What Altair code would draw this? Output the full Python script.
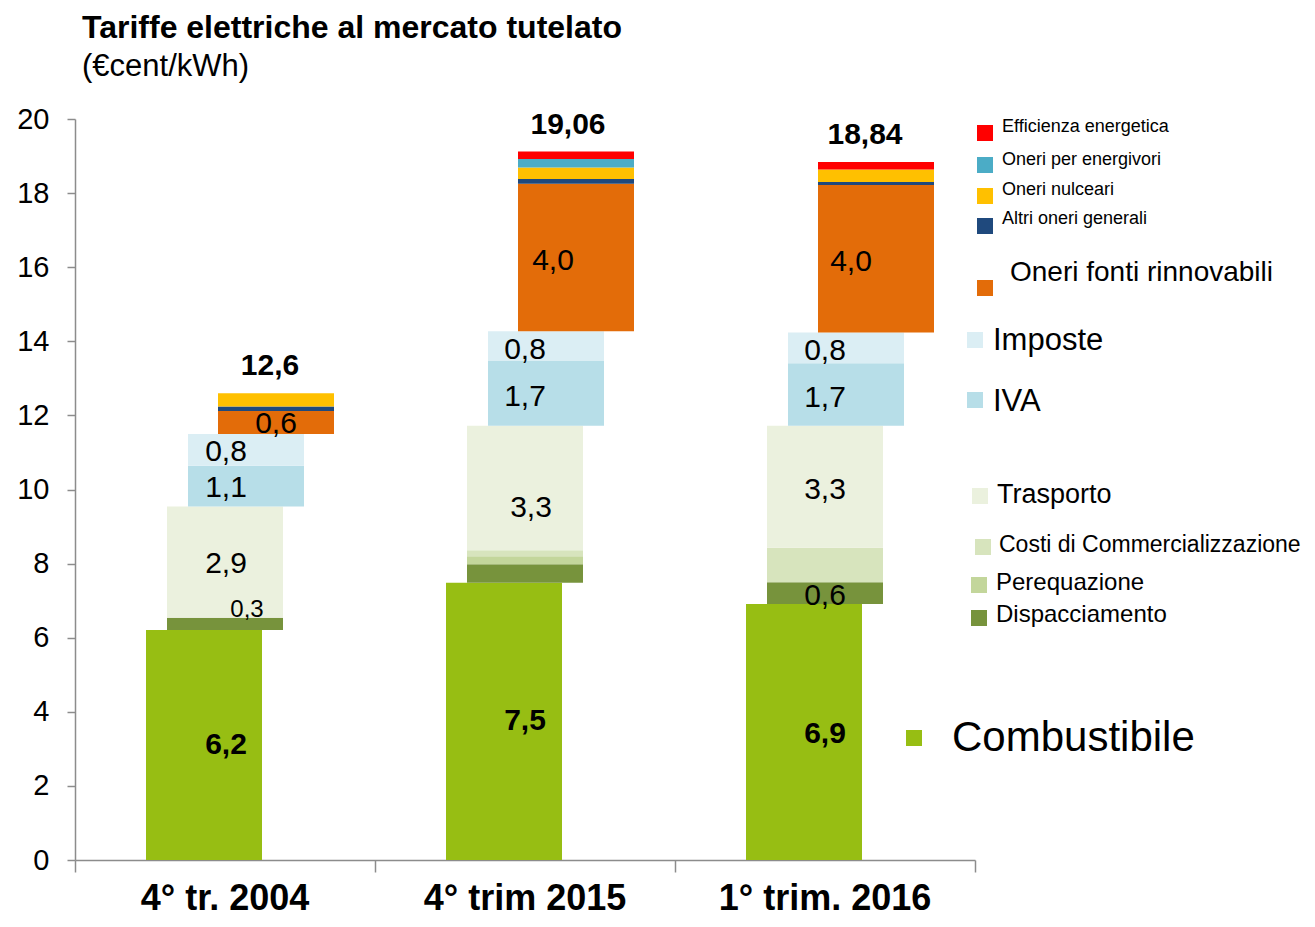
import altair as alt
import pandas as pd

# ---------------- data ----------------
groups = ["4° tr. 2004", "4° trim 2015", "1° trim. 2016"]
components = [
    "Combustibile", "Dispacciamento", "Perequazione", "Costi di Commercializzazione",
    "Trasporto", "IVA", "Imposte", "Oneri fonti rinnovabili", "Altri oneri generali",
    "Oneri nulceari", "Oneri per energivori", "Efficienza energetica",
]
combustibile = [6.21, 7.48, 6.91]
dispacciamento = [0.33, 0.50, 0.59]
perequazione = [0.00, 0.22, 0.00]
commercializzazione = [0.00, 0.16, 0.93]
trasporto = [3.00, 3.36, 3.29]
iva = [1.10, 1.75, 1.69]
imposte = [0.86, 0.80, 0.83]
rinnovabili = [0.62, 3.98, 3.98]
altri_oneri = [0.12, 0.13, 0.08]
nucleari = [0.36, 0.31, 0.34]
energivori = [0.00, 0.23, 0.00]
efficienza = [0.00, 0.20, 0.20]
totals = ["12,6", "19,06", "18,84"]

series = [combustibile, dispacciamento, perequazione, commercializzazione, trasporto,
          iva, imposte, rinnovabili, altri_oneri, nucleari, energivori, efficienza]

# value labels: (group, component, text)
value_labels = [
    (0, "Combustibile", "6,2"), (0, "Dispacciamento", "0,3"), (0, "Trasporto", "2,9"),
    (0, "IVA", "1,1"), (0, "Imposte", "0,8"), (0, "Oneri fonti rinnovabili", "0,6"),
    (1, "Combustibile", "7,5"), (1, "Trasporto", "3,3"), (1, "IVA", "1,7"),
    (1, "Imposte", "0,8"), (1, "Oneri fonti rinnovabili", "4,0"),
    (2, "Combustibile", "6,9"), (2, "Dispacciamento", "0,6"), (2, "Trasporto", "3,3"),
    (2, "IVA", "1,7"), (2, "Imposte", "0,8"), (2, "Oneri fonti rinnovabili", "4,0"),
]

# ---------------- style / layout ----------------
colors = ["#97BE13", "#77933C", "#C3D69B", "#D7E4BD", "#EBF1DE", "#B7DEE8", "#DBEEF4",
          "#E36C09", "#1F497D", "#FFC000", "#4BACC6", "#FF0000"]
column_of = [0, 1, 1, 1, 1, 2, 2, 3, 3, 3, 3, 3]
COL_OFFSET = [71, 92, 113, 143]
BAR_W = 116
GROUP_W = 300
FONT = "Liberation Sans"

# label placement tweaks: (x offset inside group, vertical nudge in value units, font size, bold)
label_style = {
    (0, "Combustibile"): (151, 0.0, 30, True),
    (0, "Dispacciamento"): (172, 0.38, 24, False),
    (0, "Trasporto"): (151, -0.05, 30, False),
    (0, "IVA"): (151, -0.05, 30, False),
    (0, "Imposte"): (151, -0.05, 30, False),
    (0, "Oneri fonti rinnovabili"): (201, -0.05, 30, False),
    (1, "Combustibile"): (150, 0.0, 30, True),
    (1, "Trasporto"): (156, -0.55, 30, False),
    (1, "IVA"): (150, -0.1, 30, False),
    (1, "Imposte"): (150, -0.1, 30, False),
    (1, "Oneri fonti rinnovabili"): (178, -0.1, 30, False),
    (2, "Combustibile"): (150, -0.05, 30, True),
    (2, "Dispacciamento"): (150, -0.07, 30, False),
    (2, "Trasporto"): (150, -0.08, 30, False),
    (2, "IVA"): (150, -0.1, 30, False),
    (2, "Imposte"): (150, -0.1, 30, False),
    (2, "Oneri fonti rinnovabili"): (176, -0.1, 30, False),
}
total_dx = [195, 193, 190]

# ---------------- build tables ----------------
rows = []
seg = {}
for gi, g in enumerate(groups):
    cum = 0.0
    for ci, comp in enumerate(components):
        v = series[ci][gi]
        y0, y1 = cum, cum + v
        cum = y1
        seg[(gi, comp)] = (y0, y1)
        if v <= 0:
            continue
        x0 = gi * GROUP_W + COL_OFFSET[column_of[ci]]
        rows.append(dict(group=g, component=comp, value=v, y0=y0, y1=y1, x0=x0, x1=x0 + BAR_W))
    seg[(gi, "TOTAL")] = (cum, cum)
bars_df = pd.DataFrame(rows)

lab_rows = []
for gi, comp, txt in value_labels:
    dx, nudge, fs, bold = label_style[(gi, comp)]
    y0, y1 = seg[(gi, comp)]
    lab_rows.append(dict(text=txt, x=gi * GROUP_W + dx, y=(y0 + y1) / 2 + nudge, fs=fs, bold=bold))
for gi, t in enumerate(totals):
    top = seg[(gi, "TOTAL")][0]
    lab_rows.append(dict(text=t, x=gi * GROUP_W + total_dx[gi], y=top + 0.73, fs=30, bold=True))
lab_df = pd.DataFrame(lab_rows)

group_df = pd.DataFrame(dict(group=groups, xc=[i * GROUP_W + GROUP_W / 2 for i in range(len(groups))]))

# manual legend (pixel positions relative to plot area)
leg_labels = ["Efficienza energetica", "Oneri per energivori", "Oneri nulceari",
              "Altri oneri generali", "Oneri fonti rinnovabili", "Imposte", "IVA",
              "Trasporto", "Costi di Commercializzazione", "Perequazione",
              "Dispacciamento", "Combustibile"]
leg_sq_x = [910, 910, 910, 910, 910, 900, 900, 905, 908, 904, 904, 839]
leg_sq_y = [14, 46, 77, 107, 169, 221, 281, 377, 428, 466, 499, 619]
leg_tx_x = [927, 927, 927, 927, 935, 918, 918, 922, 924, 921, 921, 877]
leg_tx_y = [8, 41, 71, 100, 154, 222, 283, 376, 426, 464, 496, 619]
leg_fs = [18, 18, 18, 18, 28, 31, 31, 27, 23, 24, 24, 42]
SQ = 8
leg_df = pd.DataFrame(dict(
    label=leg_labels,
    sx0=[x - SQ for x in leg_sq_x], sx1=[x + SQ for x in leg_sq_x],
    sy0=[y - SQ for y in leg_sq_y], sy1=[y + SQ for y in leg_sq_y],
    tx=leg_tx_x, ty=leg_tx_y, fs=leg_fs,
))

# ---------------- chart ----------------
xscale = alt.Scale(domain=[0, 900], nice=False, zero=False)
yscale = alt.Scale(domain=[0, 20], nice=False)
color_scale = alt.Scale(domain=components, range=colors)

bars = alt.Chart(bars_df).mark_rect().encode(
    x=alt.X("x0:Q", scale=xscale, title=None,
            axis=alt.Axis(values=[0, 300, 600, 900], labels=False,
                          tickSize=12, tickColor="#8c8c8c",
                          domainColor="#8c8c8c", domainWidth=1.5, tickWidth=1.5, grid=False)),
    x2="x1:Q",
    y=alt.Y("y0:Q", scale=yscale, title=None,
            axis=alt.Axis(values=list(range(0, 21, 2)), labelFontSize=29, labelFont=FONT,
                          labelColor="black", labelPadding=18, tickSize=8,
                          tickColor="#8c8c8c", domainColor="#8c8c8c", domainWidth=1.5,
                          tickWidth=1.5, grid=False)),
    y2="y1:Q",
    color=alt.Color("component:N", scale=color_scale, legend=None),
    tooltip=["group", "component", "value"],
)

group_labels = alt.Chart(group_df).mark_text(
    font=FONT, fontSize=36, fontWeight="bold", color="black",
    baseline="alphabetic", align="center"
).encode(
    x=alt.X("xc:Q", scale=xscale), y=alt.value(791), text="group:N",
)

labels_normal = alt.Chart(lab_df[~lab_df["bold"]]).mark_text(
    font=FONT, color="black", baseline="middle", align="center"
).encode(
    x=alt.X("x:Q", scale=xscale), y=alt.Y("y:Q", scale=yscale),
    text="text:N", size=alt.Size("fs:Q", scale=None, legend=None),
)
labels_bold = alt.Chart(lab_df[lab_df["bold"]]).mark_text(
    font=FONT, color="black", baseline="middle", align="center", fontWeight="bold"
).encode(
    x=alt.X("x:Q", scale=xscale), y=alt.Y("y:Q", scale=yscale),
    text="text:N", size=alt.Size("fs:Q", scale=None, legend=None),
)

leg_squares = alt.Chart(leg_df).mark_rect().encode(
    x=alt.X("sx0:Q", scale=None), x2="sx1:Q",
    y=alt.Y("sy0:Q", scale=None), y2="sy1:Q",
    color=alt.Color("label:N", scale=color_scale, legend=None),
)
leg_text = alt.Chart(leg_df).mark_text(
    font=FONT, color="black", align="left", baseline="middle"
).encode(
    x=alt.X("tx:Q", scale=None), y=alt.Y("ty:Q", scale=None),
    text="label:N", size=alt.Size("fs:Q", scale=None, legend=None),
)

chart = alt.layer(bars, group_labels, labels_normal, labels_bold, leg_squares, leg_text).properties(
    width=900, height=741,
    title=alt.Title("Tariffe elettriche al mercato tutelato", subtitle="(€cent/kWh)",
                    anchor="start", frame="group", dx=7, offset=22,
                    font=FONT, fontSize=32, fontWeight="bold", color="black",
                    subtitleFont=FONT, subtitleFontSize=31, subtitleColor="black",
                    subtitlePadding=7),
    autosize=alt.AutoSizeParams(type="none"),
    padding={"left": 67, "top": 111, "right": 328, "bottom": 58},
).configure_view(stroke=None)

chart.save("out.html", embed_options={"renderer": "svg", "actions": False})
